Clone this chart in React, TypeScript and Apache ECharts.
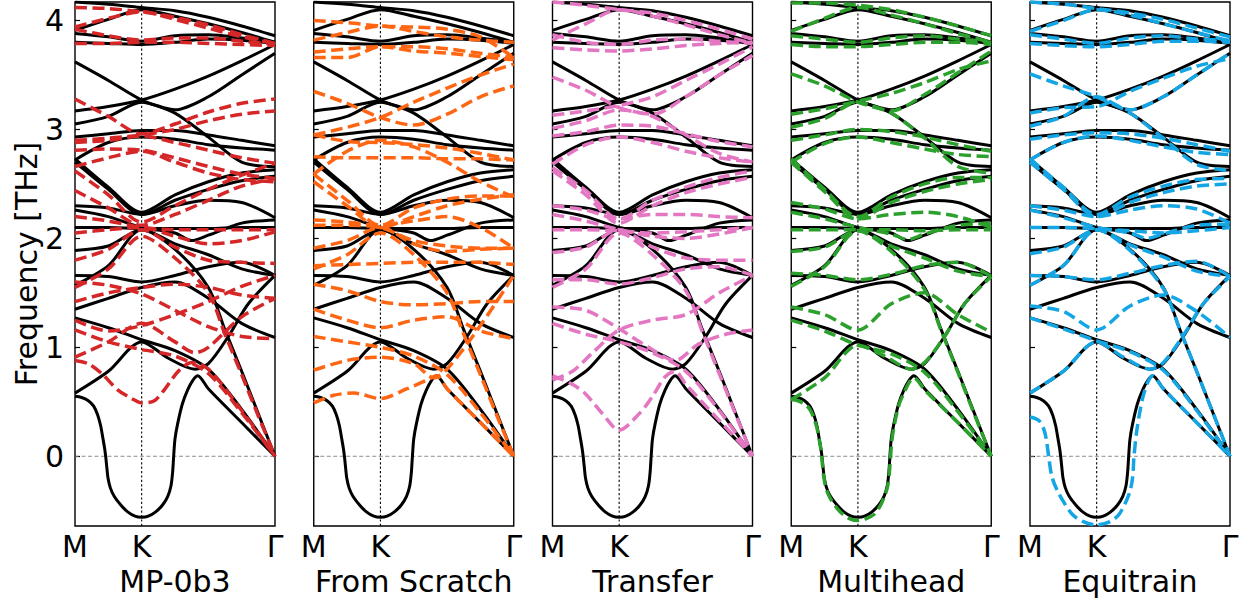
import React, { useEffect, useRef } from "react";
import * as echarts from "echarts";

type Pt = [number, number];

const panelTitles = ["MP-0b3", "From Scratch", "Transfer", "Multihead", "Equitrain"];
const panelColors = ["#d62728", "#ff6614", "#e377c2", "#2ca02c", "#14a6e4"];
const qLabels = ["M", "K", "", "Γ"]; // at q = 0, 1, 2, 3 (K at 1/3 of the path)
const freqTicks = [0, 1, 2, 3, 4];
const yMin = -0.64;
const yMax = 4.17;
const kPos = 1;

// DFT reference bands (black)
const dftBands: Pt[][] = [
  [[0,4.17],[0.5,4.15],[1,4.12],[1.5,4.09],[2,4.03],[2.5,3.95],[3,3.86]],
  [[0,3.91],[0.5,4.01],[1,4.10],[1.5,4.04],[2,3.97],[2.5,3.89],[3,3.80]],
  [[0,3.88],[0.5,3.85],[1,3.81],[1.5,3.86],[2,3.87],[2.5,3.84],[3,3.80]],
  [[0,3.80],[0.5,3.79],[1,3.78],[1.5,3.80],[2,3.83],[2.5,3.82],[3,3.79]],
  [[0,3.62],[0.5,3.45],[1,3.27],[1.5,3.15],[2,2.93],[2.5,2.70],[3,2.66]],
  [[0,3.17],[0.5,3.21],[1,3.27],[1.5,3.37],[2,3.49],[2.5,3.63],[3,3.78]],
  [[0,3.05],[0.5,3.12],[1,3.25],[1.5,3.18],[2,3.30],[2.5,3.50],[3,3.70]],
  [[0,2.93],[0.5,2.96],[1,2.99],[1.5,2.99],[2,2.95],[2.5,2.90],[3,2.85]],
  [[0,2.72],[0.5,2.88],[1,2.93],[1.5,2.91],[2,2.86],[2.5,2.83],[3,2.81]],
  [[0,2.73],[0.5,2.47],[1,2.24],[1.5,2.40],[2,2.52],[2.5,2.60],[3,2.63]],
  [[0,2.70],[0.5,2.45],[1,2.22],[1.5,2.35],[2,2.45],[2.5,2.53],[3,2.57]],
  [[0,2.30],[0.5,2.28],[1,2.22],[1.5,2.30],[2,2.35],[2.5,2.33],[3,2.19]],
  [[0,2.26],[0.5,2.20],[1,2.10],[1.5,2.05],[1.75,1.98],[2,2.03],[2.5,2.14],[3,2.17]],
  [[0,2.10],[0.5,2.10],[1,2.09],[1.5,2.09],[2,2.09],[2.5,2.10],[3,2.10]],
  [[0,1.89],[0.5,1.93],[1,2.08],[1.5,1.95],[2,1.85],[2.5,1.72],[3,1.66]],
  [[0,1.57],[0.5,1.75],[1,2.08],[1.5,1.90],[2,1.55],[2.25,1.16],[2.5,0.78],[2.75,0.39],[3,0]],
  [[0,1.66],[0.5,1.65],[1,1.60],[1.5,1.66],[2,1.74],[2.5,1.78],[3,1.66]],
  [[0,1.35],[0.5,1.45],[1,1.55],[1.5,1.60],[2,1.45],[2.5,1.22],[3,1.09]],
  [[0,0.58],[0.5,0.78],[1,1.05],[1.4,0.90],[1.8,0.80],[2,0.85],[2.3,1.10],[2.6,1.40],[3,1.66]],
  [[0,1.27],[0.5,1.18],[1,1.07],[1.5,0.97],[2,0.80],[2.5,0.43],[3,0]],
  [[0,0.55],[0.1,0.54],[0.2,0.51],[0.28,0.46],[0.34,0.38],[0.385,0.28],[0.42,0.16],[0.445,0.07],[0.46,0],[0.477,-0.1],[0.495,-0.2],[0.53,-0.29],[0.59,-0.37],[0.69,-0.45],[0.79,-0.51],[0.9,-0.55],[1,-0.56],[1.1,-0.55],[1.21,-0.51],[1.31,-0.45],[1.39,-0.37],[1.44,-0.27],[1.465,-0.14],[1.48,0],[1.5,0.16],[1.54,0.3],[1.61,0.48],[1.69,0.61],[1.77,0.70],[1.84,0.74],[2,0.62],[2.5,0.31],[3,0]],
];

// MP-0b3 (red dashed)
const mp0b3Bands: Pt[][] = [
  [[0,4.12],[0.5,4.11],[1,4.08],[1.5,4.03],[2,3.96],[2.5,3.87],[3,3.79]],
  [[0,3.94],[0.5,4.02],[1,4.08],[1.5,4.01],[2,3.93],[2.5,3.85],[3,3.79]],
  [[0,3.92],[0.5,3.86],[1,3.82],[1.5,3.84],[2,3.84],[2.5,3.81],[3,3.78]],
  [[0,3.79],[0.5,3.79],[1,3.80],[1.5,3.80],[2,3.79],[2.5,3.78],[3,3.77]],
  [[0,3.28],[0.5,3.12],[1,2.96],[1.5,3.05],[2,3.16],[2.5,3.24],[3,3.28]],
  [[0,2.90],[0.5,2.92],[1,2.95],[1.5,3.00],[2,3.08],[2.5,3.14],[3,3.17]],
  [[0,2.88],[0.5,2.90],[1,2.94],[1.5,2.88],[2,2.81],[2.5,2.74],[3,2.69]],
  [[0,2.81],[0.5,2.82],[1,2.81],[1.5,2.74],[2,2.66],[2.5,2.59],[3,2.55]],
  [[0,2.66],[0.5,2.74],[1,2.80],[1.5,2.70],[2,2.60],[2.5,2.54],[3,2.52]],
  [[0,2.62],[0.5,2.40],[1,2.15],[1.5,2.30],[2,2.45],[2.5,2.58],[3,2.69]],
  [[0,2.44],[0.5,2.28],[1,2.12],[1.5,2.22],[2,2.35],[2.5,2.48],[3,2.55]],
  [[0,2.20],[0.5,2.16],[1,2.10],[1.5,2.08],[2,2.08],[2.5,2.08],[3,2.08]],
  [[0,2.05],[0.5,2.08],[1,2.10],[1.5,2.02],[2,1.95],[2.5,1.98],[3,2.06]],
  [[0,1.80],[0.5,1.90],[1,2.08],[1.5,1.92],[2,1.80],[2.5,1.78],[3,1.77]],
  [[0,1.55],[0.5,1.72],[1,2.02],[1.5,1.82],[2,1.50],[2.25,1.12],[2.5,0.75],[2.75,0.37],[3,0]],
  [[0,1.60],[0.5,1.57],[1,1.49],[1.5,1.34],[2,1.19],[2.5,1.10],[3,1.08]],
  [[0,1.42],[0.5,1.50],[1,1.55],[1.5,1.58],[2,1.55],[2.5,1.48],[3,1.45]],
  [[0,1.25],[0.5,1.15],[1,1.20],[1.5,1.30],[2,1.42],[2.5,1.56],[3,1.66]],
  [[0,0.91],[0.5,1.05],[1,1.22],[1.5,1.05],[1.8,0.95],[2,1.00],[2.5,1.28],[3,1.45]],
  [[0,1.16],[0.5,1.05],[1,0.98],[1.5,0.92],[2,0.76],[2.5,0.40],[3,0]],
  [[0,0.88],[0.2,0.85],[0.4,0.76],[0.64,0.61],[0.85,0.53],[1,0.49],[1.19,0.51],[1.34,0.61],[1.55,0.78],[1.75,0.86],[2,0.80],[2.5,0.42],[3,0]],
];

// From Scratch (orange dashed)
const scratchBands: Pt[][] = [
  [[0,4.00],[0.5,3.98],[1,3.95],[1.5,3.94],[2,3.92],[2.5,3.85],[3,3.66]],
  [[0,3.82],[0.5,3.89],[1,3.95],[1.5,3.90],[2,3.85],[2.5,3.82],[3,3.80]],
  [[0,3.71],[0.5,3.74],[1,3.76],[1.5,3.76],[2,3.74],[2.5,3.70],[3,3.66]],
  [[0,3.66],[0.5,3.66],[1,3.76],[1.5,3.72],[2,3.70],[2.5,3.67],[3,3.64]],
  [[0,3.35],[0.5,3.24],[1,3.11],[1.5,3.04],[2,3.14],[2.5,3.30],[3,3.40]],
  [[0,2.95],[0.5,3.02],[1,3.11],[1.5,3.25],[2,3.38],[2.5,3.50],[3,3.60]],
  [[0,2.95],[0.5,2.89],[1,2.88],[1.5,2.86],[2,2.83],[2.5,2.78],[3,2.72]],
  [[0,2.75],[0.5,2.74],[1,2.74],[1.5,2.74],[2,2.73],[2.5,2.73],[3,2.72]],
  [[0,2.59],[0.5,2.80],[1,2.90],[1.5,2.84],[2,2.70],[2.5,2.52],[3,2.38]],
  [[0,2.59],[0.5,2.35],[1,2.12],[1.5,2.28],[2,2.36],[2.5,2.39],[3,2.39]],
  [[0,2.52],[0.5,2.30],[1,2.10],[1.5,2.20],[2,2.30],[2.5,2.36],[3,2.40]],
  [[0,2.17],[0.5,2.15],[1,2.12],[1.5,2.16],[2,2.20],[2.5,2.10],[3,1.91]],
  [[0,2.12],[0.5,2.12],[1,2.10],[1.5,1.98],[2,1.93],[2.5,1.91],[3,1.91]],
  [[0,1.91],[0.5,1.98],[1,2.10],[1.5,1.95],[2,1.88],[2.5,1.90],[3,1.91]],
  [[0,1.72],[0.5,1.85],[1,2.05],[1.5,1.85],[2,1.50],[2.25,1.12],[2.5,0.75],[2.75,0.37],[3,0]],
  [[0,1.75],[0.5,1.76],[1,1.77],[1.5,1.78],[2,1.78],[2.5,1.78],[3,1.76]],
  [[0,1.58],[0.5,1.52],[1,1.42],[1.5,1.39],[2,1.40],[2.5,1.42],[3,1.42]],
  [[0,1.35],[0.5,1.25],[1,1.18],[1.5,1.25],[2,1.28],[2.5,1.15],[3,1.08]],
  [[0,0.79],[0.5,0.88],[1,0.91],[1.5,0.85],[1.8,0.72],[2,0.80],[2.5,1.20],[3,1.66]],
  [[0,1.10],[0.5,1.05],[1,1.00],[1.5,0.92],[2,0.75],[2.5,0.40],[3,0]],
  [[0,0.49],[0.3,0.56],[0.6,0.58],[1,0.53],[1.4,0.62],[1.7,0.70],[1.84,0.74],[2,0.62],[2.5,0.31],[3,0]],
];

// Transfer (pink dashed)
const transferBands: Pt[][] = [
  [[0,4.17],[0.5,4.14],[1,4.10],[1.5,4.07],[2,4.00],[2.5,3.92],[3,3.83]],
  [[0,3.82],[0.5,3.97],[1,4.10],[1.5,4.04],[2,3.96],[2.5,3.87],[3,3.79]],
  [[0,3.87],[0.5,3.80],[1,3.78],[1.5,3.82],[2,3.83],[2.5,3.81],[3,3.79]],
  [[0,3.75],[0.5,3.73],[1,3.72],[1.5,3.74],[2,3.77],[2.5,3.79],[3,3.80]],
  [[0,3.48],[0.5,3.36],[1,3.20],[1.5,3.12],[2,2.95],[2.5,2.78],[3,2.70]],
  [[0,3.13],[0.5,3.17],[1,3.22],[1.5,3.30],[2,3.45],[2.5,3.60],[3,3.76]],
  [[0,3.01],[0.5,3.08],[1,3.18],[1.5,3.14],[2,3.30],[2.5,3.50],[3,3.68]],
  [[0,2.94],[0.5,2.98],[1,3.04],[1.5,3.03],[2,2.96],[2.5,2.89],[3,2.84]],
  [[0,2.68],[0.5,2.86],[1,2.93],[1.5,2.88],[2,2.80],[2.5,2.74],[3,2.70]],
  [[0,2.65],[0.5,2.44],[1,2.18],[1.5,2.35],[2,2.47],[2.5,2.56],[3,2.62]],
  [[0,2.62],[0.5,2.40],[1,2.14],[1.5,2.30],[2,2.42],[2.5,2.50],[3,2.56]],
  [[0,2.30],[0.5,2.26],[1,2.18],[1.5,2.22],[2,2.22],[2.5,2.20],[3,2.19]],
  [[0,2.22],[0.5,2.16],[1,2.08],[1.5,2.02],[2,2.00],[2.5,2.04],[3,2.10]],
  [[0,2.08],[0.5,2.08],[1,2.07],[1.5,2.05],[2,2.06],[2.5,2.08],[3,2.10]],
  [[0,1.87],[0.5,1.92],[1,2.08],[1.5,1.92],[2,1.82],[2.5,1.80],[3,1.80]],
  [[0,1.55],[0.5,1.72],[1,2.05],[1.5,1.85],[2,1.52],[2.25,1.14],[2.5,0.76],[2.75,0.38],[3,0]],
  [[0,1.62],[0.5,1.62],[1,1.58],[1.5,1.64],[2,1.72],[2.5,1.74],[3,1.66]],
  [[0,1.37],[0.5,1.34],[1,1.17],[1.44,1.00],[1.84,0.88],[2.19,1.03],[2.6,1.12],[3,1.16]],
  [[0,0.70],[0.3,0.78],[0.6,0.95],[1,1.16],[1.5,1.25],[2,1.30],[2.5,1.50],[3,1.66]],
  [[0,1.22],[0.5,1.12],[1,1.05],[1.5,0.95],[2,0.78],[2.5,0.42],[3,0]],
  [[0,0.74],[0.3,0.66],[0.5,0.57],[0.75,0.39],[1,0.24],[1.3,0.39],[1.5,0.55],[1.69,0.73],[1.84,0.78],[2,0.66],[2.5,0.33],[3,0]],
];

// Multihead (green dashed)
const multiheadBands: Pt[][] = [
  [[0,4.16],[0.5,4.16],[1,4.14],[1.5,4.10],[2,4.03],[2.5,3.95],[3,3.86]],
  [[0,3.90],[0.5,4.02],[1,4.12],[1.5,4.05],[2,3.97],[2.5,3.88],[3,3.80]],
  [[0,3.86],[0.5,3.83],[1,3.80],[1.5,3.84],[2,3.86],[2.5,3.83],[3,3.80]],
  [[0,3.78],[0.5,3.76],[1,3.76],[1.5,3.78],[2,3.80],[2.5,3.80],[3,3.78]],
  [[0,3.51],[0.5,3.40],[1,3.25],[1.5,3.15],[2,2.92],[2.5,2.66],[3,2.60]],
  [[0,3.14],[0.5,3.19],[1,3.26],[1.5,3.33],[2,3.43],[2.5,3.55],[3,3.63]],
  [[0,3.02],[0.5,3.10],[1,3.25],[1.5,3.17],[2,3.32],[2.5,3.52],[3,3.72]],
  [[0,2.90],[0.5,2.95],[1,3.00],[1.5,2.98],[2,2.93],[2.5,2.86],[3,2.80]],
  [[0,2.70],[0.5,2.87],[1,2.93],[1.5,2.88],[2,2.82],[2.5,2.77],[3,2.75]],
  [[0,2.73],[0.5,2.45],[1,2.20],[1.5,2.38],[2,2.50],[2.5,2.56],[3,2.56]],
  [[0,2.70],[0.5,2.43],[1,2.18],[1.5,2.33],[2,2.43],[2.5,2.50],[3,2.54]],
  [[0,2.33],[0.5,2.27],[1,2.18],[1.5,2.22],[2,2.24],[2.5,2.20],[3,2.10]],
  [[0,2.24],[0.5,2.18],[1,2.10],[1.5,2.04],[1.75,1.99],[2,2.04],[2.5,2.12],[3,2.14]],
  [[0,2.08],[0.5,2.08],[1,2.08],[1.5,2.08],[2,2.07],[2.5,2.08],[3,2.08]],
  [[0,1.88],[0.5,1.92],[1,2.07],[1.5,1.93],[2,1.82],[2.5,1.70],[3,1.65]],
  [[0,1.56],[0.5,1.74],[1,2.07],[1.5,1.88],[2,1.53],[2.25,1.15],[2.5,0.77],[2.75,0.38],[3,0]],
  [[0,1.68],[0.5,1.66],[1,1.62],[1.5,1.67],[2,1.75],[2.5,1.78],[3,1.65]],
  [[0,1.37],[0.5,1.30],[1,1.16],[1.5,1.40],[2,1.50],[2.5,1.30],[3,1.14]],
  [[0,0.52],[0.5,0.72],[1,1.02],[1.4,0.92],[1.8,0.80],[2,0.86],[2.3,1.10],[2.6,1.40],[3,1.65]],
  [[0,1.25],[0.5,1.15],[1,1.02],[1.5,0.94],[2,0.77],[2.5,0.41],[3,0]],
  [[0,0.52],[0.1,0.51],[0.2,0.48],[0.28,0.43],[0.34,0.35],[0.385,0.26],[0.42,0.15],[0.445,0.06],[0.455,0],[0.472,-0.1],[0.49,-0.2],[0.53,-0.31],[0.59,-0.39],[0.69,-0.48],[0.79,-0.54],[0.9,-0.58],[1,-0.59],[1.1,-0.58],[1.25,-0.53],[1.33,-0.46],[1.39,-0.38],[1.44,-0.29],[1.47,-0.16],[1.49,0],[1.51,0.15],[1.55,0.3],[1.62,0.48],[1.69,0.58],[1.77,0.68],[1.84,0.72],[2,0.61],[2.5,0.31],[3,0]],
];

// Equitrain (blue dashed)
const equitrainBands: Pt[][] = [
  [[0,4.17],[0.5,4.15],[1,4.11],[1.5,4.07],[2,4.01],[2.5,3.93],[3,3.85]],
  [[0,3.90],[0.5,4.00],[1,4.10],[1.5,4.05],[2,3.97],[2.5,3.89],[3,3.81]],
  [[0,3.87],[0.5,3.83],[1,3.79],[1.5,3.84],[2,3.86],[2.5,3.83],[3,3.82]],
  [[0,3.79],[0.5,3.77],[1,3.76],[1.5,3.78],[2,3.81],[2.5,3.81],[3,3.80]],
  [[0,3.51],[0.5,3.40],[1,3.30],[1.5,3.15],[2,2.92],[2.5,2.68],[3,2.62]],
  [[0,3.15],[0.5,3.20],[1,3.21],[1.5,3.35],[2,3.47],[2.5,3.58],[3,3.65]],
  [[0,3.03],[0.5,3.12],[1,3.30],[1.5,3.18],[2,3.30],[2.5,3.50],[3,3.70]],
  [[0,2.91],[0.5,2.95],[1,2.97],[1.5,2.96],[2,2.92],[2.5,2.86],[3,2.80]],
  [[0,2.72],[0.5,2.88],[1,2.94],[1.5,2.90],[2,2.84],[2.5,2.79],[3,2.77]],
  [[0,2.73],[0.5,2.47],[1,2.22],[1.5,2.38],[2,2.48],[2.5,2.54],[3,2.55]],
  [[0,2.70],[0.5,2.45],[1,2.20],[1.5,2.33],[2,2.42],[2.5,2.48],[3,2.50]],
  [[0,2.30],[0.5,2.26],[1,2.20],[1.5,2.26],[2,2.30],[2.5,2.27],[3,2.14]],
  [[0,2.26],[0.5,2.19],[1,2.10],[1.5,2.05],[1.75,2.00],[2,2.04],[2.5,2.12],[3,2.13]],
  [[0,2.10],[0.5,2.10],[1,2.09],[1.5,2.07],[2,2.05],[2.5,2.07],[3,2.10]],
  [[0,1.86],[0.5,1.92],[1,2.08],[1.5,1.94],[2,1.83],[2.5,1.70],[3,1.65]],
  [[0,1.57],[0.5,1.75],[1,2.08],[1.5,1.89],[2,1.54],[2.25,1.16],[2.5,0.78],[2.75,0.39],[3,0]],
  [[0,1.66],[0.5,1.65],[1,1.62],[1.5,1.68],[2,1.75],[2.5,1.79],[3,1.65]],
  [[0,1.38],[0.5,1.33],[1,1.16],[1.5,1.38],[2,1.48],[2.5,1.33],[3,1.09]],
  [[0,0.58],[0.5,0.78],[1,1.05],[1.4,0.91],[1.8,0.80],[2,0.86],[2.3,1.11],[2.6,1.40],[3,1.65]],
  [[0,1.27],[0.5,1.17],[1,1.06],[1.5,0.96],[2,0.79],[2.5,0.42],[3,0]],
  [[0,0.36],[0.13,0.33],[0.2,0.26],[0.24,0.17],[0.28,0],[0.33,-0.19],[0.43,-0.34],[0.63,-0.53],[0.8,-0.60],[1,-0.63],[1.2,-0.60],[1.34,-0.53],[1.49,-0.34],[1.54,-0.19],[1.56,0],[1.61,0.27],[1.71,0.58],[1.84,0.74],[2,0.62],[2.5,0.31],[3,0]],
];

const modelBands: Pt[][][] = [mp0b3Bands, scratchBands, transferBands, multiheadBands, equitrainBands];

const FONT = "DejaVu Sans";
const gridLefts = [75, 313.75, 552.5, 791.25, 1030];

export default function App() {
  const ref = useRef<HTMLDivElement>(null);
  useEffect(() => {
    if (!ref.current) return;
    const chart = echarts.init(ref.current, null, { renderer: "svg" });
    const grid: any[] = [];
    const xAxis: any[] = [];
    const yAxis: any[] = [];
    const series: any[] = [];
    for (let i = 0; i < 5; i++) {
      grid.push({
        left: gridLefts[i], top: 2, width: 200, height: 524,
        show: true, borderColor: "#000", borderWidth: 1.4, backgroundColor: "transparent",
      });
      xAxis.push({
        gridIndex: i, type: "value", min: 0, max: 3, interval: 1,
        axisLine: { show: false }, axisTick: { show: false }, splitLine: { show: false },
        axisLabel: {
          formatter: (v: number) => qLabels[Math.round(v)] ?? "",
          fontSize: 30, color: "#000", fontFamily: FONT, margin: 5,
          showMinLabel: true, showMaxLabel: true,
        },
        name: panelTitles[i], nameLocation: "middle", nameGap: 40,
        nameTextStyle: { fontSize: 30, color: "#000", fontFamily: FONT },
      });
      yAxis.push({
        gridIndex: i, type: "value", min: yMin, max: yMax,
        axisLine: { show: false }, splitLine: { show: false },
        axisTick: { show: true, inside: true, length: 5, customValues: freqTicks, lineStyle: { color: "#000", width: 1.2 } },
        axisLabel: { show: i === 0, customValues: freqTicks, fontSize: 30, color: "#000", fontFamily: FONT, margin: 11 },
        name: i === 0 ? "Frequency [THz]" : "", nameLocation: "middle", nameGap: 32,
        nameTextStyle: { fontSize: 30, color: "#000", fontFamily: FONT },
      });
      // reference lines
      series.push({
        type: "line", xAxisIndex: i, yAxisIndex: i, silent: true, symbol: "none", z: 1,
        data: [[0, 0], [3, 0]],
        lineStyle: { color: "#808080", width: 0.9, type: [4, 2.5] },
      });
      series.push({
        type: "line", xAxisIndex: i, yAxisIndex: i, silent: true, symbol: "none", z: 1,
        data: [[kPos, yMin], [kPos, yMax]],
        lineStyle: { color: "#000", width: 1.1, type: [2.2, 2.2] },
      });
      dftBands.forEach((b) => {
        series.push({
          type: "line", xAxisIndex: i, yAxisIndex: i, silent: true, symbol: "none", z: 2,
          smooth: 0.3, data: b,
          lineStyle: { color: "#000", width: 3 },
        });
      });
      modelBands[i].forEach((b) => {
        series.push({
          type: "line", xAxisIndex: i, yAxisIndex: i, silent: true, symbol: "none", z: 3,
          smooth: 0.3, data: b,
          lineStyle: { color: panelColors[i], width: 3.5, type: [12, 5.5] },
        });
      });
    }
    chart.setOption({
      animation: false,
      backgroundColor: "#fff",
      grid, xAxis, yAxis, series,
    });
    return () => chart.dispose();
  }, []);
  return (
    <div
      ref={ref}
      style={{ position: "fixed", left: 0, top: 0, width: 1260, height: 607, background: "#fff" }}
    />
  );
}
